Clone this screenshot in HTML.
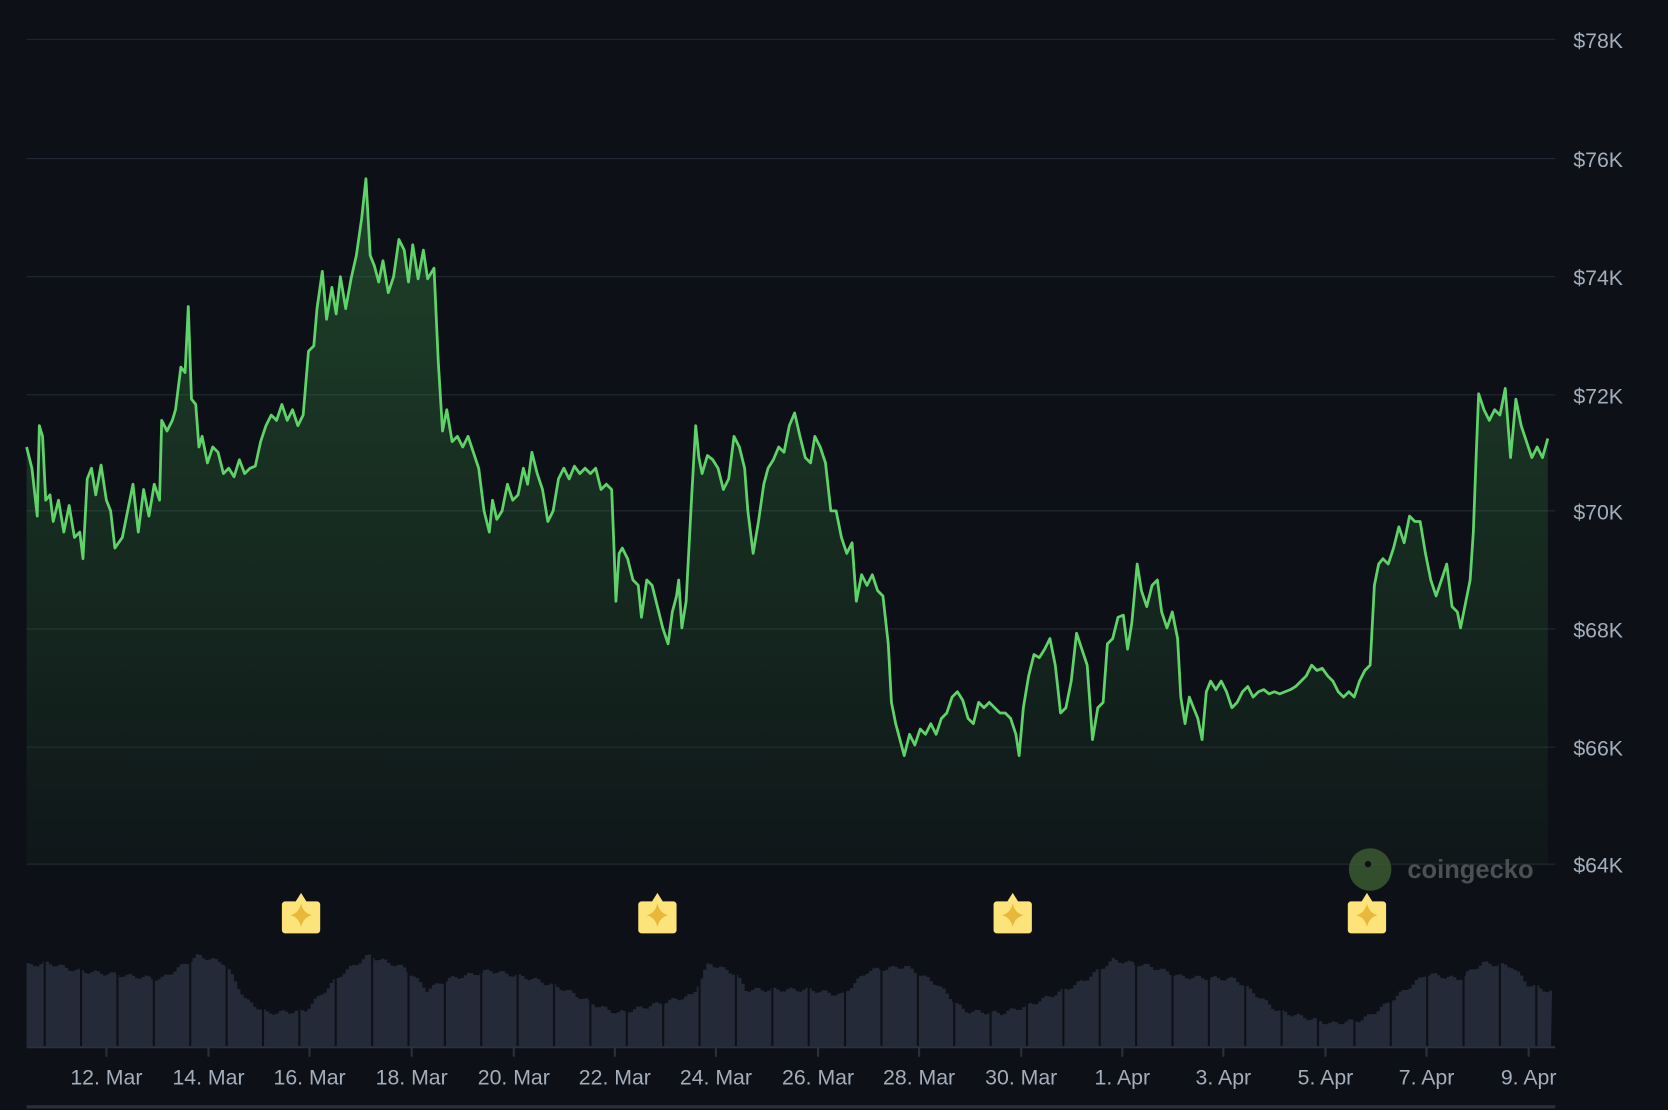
<!DOCTYPE html>
<html><head><meta charset="utf-8"><style>
html,body{margin:0;padding:0;background:#0d1117;}
svg{display:block}
text{font-family:"Liberation Sans",sans-serif;fill:#a3adbb;}
</style></head><body>
<svg id="s" width="1668" height="1110" viewBox="0 0 1568 1043" preserveAspectRatio="none">
<defs>
<linearGradient id="g" x1="0" y1="0" x2="0" y2="1">
<stop offset="0" stop-color="#3f9b4a" stop-opacity="0.35"/>
<stop offset="1" stop-color="#3f9b4a" stop-opacity="0.04"/>
</linearGradient>
</defs>
<rect width="1568" height="1043" fill="#0d1117"/>
<g id="grid" stroke="#222833" stroke-width="1"></g>
<g id="ylab" font-size="20"></g>
<path id="area" fill="url(#g)"/>
<polyline id="line" fill="none" stroke="#5fd36a" stroke-width="2.6" stroke-linejoin="round"/>
<g id="vol"></g>
<line x1="25" y1="984" x2="1462" y2="984" stroke="#2a303c" stroke-width="2"/>
<g id="xt" stroke="#2a303c" stroke-width="2"></g>
<g id="xlab" font-size="20" text-anchor="middle"></g>
<line x1="25" y1="1040" x2="1462" y2="1040" stroke="#2a303c" stroke-width="3"/>
<circle cx="1288" cy="817" r="20" fill="#3d5e32" opacity="0.8"/>
<circle cx="1286" cy="812" r="3" fill="#0d1117"/>
<text x="1323" y="825" font-size="24" font-weight="bold" style="fill:#4a5150">coingecko</text>
<g id="stars"></g>
</svg>
<script>
const S=document.getElementById('s'),ns='http://www.w3.org/2000/svg';
function el(p,t,a,txt){const e=document.createElementNS(ns,t);for(const k in a)e.setAttribute(k,a[k]);if(txt)e.textContent=txt;document.getElementById(p).appendChild(e);return e;}
const gy=[[37,'$78K'],[149,'$76K'],[260,'$74K'],[371,'$72K'],[480,'$70K'],[591,'$68K'],[702,'$66K'],[812,'$64K']];
gy.forEach(([y,t])=>{el('grid','line',{x1:25,x2:1462,y1:y,y2:y});el('ylab','text',{x:1479,y:y+8},t);});
const xl=[[100,'12. Mar'],[196,'14. Mar'],[291,'16. Mar'],[387,'18. Mar'],[483,'20. Mar'],[578,'22. Mar'],[673,'24. Mar'],[769,'26. Mar'],[864,'28. Mar'],[960,'30. Mar'],[1055,'1. Apr'],[1150,'3. Apr'],[1246,'5. Apr'],[1341,'7. Apr'],[1437,'9. Apr']];
xl.forEach(([x,t])=>{el('xt','line',{x1:x,x2:x,y1:984,y2:993});el('xlab','text',{x:x,y:1019},t);});
const P=[25,420,30,440,35,485,37,400,40,410,43,470,47,465,50,490,55,470,60,500,65,475,70,505,75,500,78,525,82,450,86,440,90,465,95,437,100,470,104,480,108,515,115,505,120,480,125,455,130,500,135,460,140,485,145,455,150,470,152,395,157,405,162,395,165,385,170,345,174,350,177,288,180,375,184,380,187,420,190,410,195,435,200,420,205,425,210,445,215,440,220,448,225,432,230,445,235,440,240,438,245,415,250,400,255,390,260,395,265,380,270,395,275,385,280,400,285,390,290,330,295,325,298,290,303,255,307,300,312,270,316,295,320,260,325,290,330,262,335,240,340,205,344,168,348,240,352,250,356,265,360,245,365,275,370,260,375,225,380,235,384,265,388,230,393,262,398,235,402,262,408,252,412,340,416,405,420,385,425,415,430,410,435,420,440,410,445,425,450,440,455,480,460,500,463,470,467,488,472,480,477,455,482,470,487,465,492,440,496,455,500,425,505,445,510,460,515,490,520,480,525,450,530,440,535,450,540,438,545,445,550,440,555,445,560,440,565,460,570,455,575,460,577,510,579,565,582,520,585,515,590,525,595,545,600,550,603,580,608,545,613,550,618,570,623,590,628,605,632,575,636,560,638,545,641,590,645,565,650,470,654,400,657,430,660,445,665,428,670,432,675,440,680,460,685,450,690,410,695,420,700,440,703,480,708,520,713,490,718,455,722,440,727,432,732,420,737,425,742,400,747,388,752,410,757,430,762,435,766,410,771,420,776,435,781,480,786,480,791,505,796,520,801,510,805,565,810,540,815,550,820,540,825,555,830,560,835,605,838,660,842,680,846,695,850,710,855,690,860,700,865,685,870,690,875,680,880,690,885,675,890,670,895,655,900,650,905,658,910,675,915,680,920,660,925,665,930,660,935,665,940,670,945,670,950,675,955,690,958,710,962,665,967,635,972,615,977,618,982,610,987,600,992,625,997,670,1002,665,1007,640,1012,595,1017,610,1022,625,1027,695,1032,665,1037,660,1041,605,1046,600,1051,580,1056,578,1060,610,1064,585,1069,530,1073,555,1078,570,1083,550,1088,545,1092,575,1097,590,1102,575,1107,600,1110,655,1114,680,1118,655,1122,665,1126,675,1130,695,1134,650,1138,640,1143,648,1148,640,1153,650,1158,665,1163,660,1168,650,1173,645,1178,655,1183,650,1188,648,1193,652,1198,650,1203,652,1208,650,1213,648,1218,645,1223,640,1228,635,1233,625,1238,630,1243,628,1248,635,1253,640,1258,650,1263,655,1268,650,1273,655,1278,640,1283,630,1288,625,1292,550,1296,530,1300,525,1305,530,1310,515,1315,495,1320,510,1325,485,1330,490,1335,490,1340,520,1345,545,1350,560,1355,545,1360,530,1365,570,1370,575,1373,590,1377,570,1382,545,1385,500,1388,420,1390,370,1395,385,1400,395,1405,385,1410,390,1415,365,1420,430,1425,375,1430,400,1435,415,1440,430,1445,420,1450,430,1455,412];
let pts=[];for(let i=0;i<P.length;i+=2)pts.push(P[i]+','+P[i+1]);
document.getElementById('line').setAttribute('points',pts.join(' '));
document.getElementById('area').setAttribute('d','M25,812 L'+pts.join(' L')+' L1455,812 Z');
const V=[25,907,45,905,70,912,100,915,150,920,185,898,210,905,230,940,250,952,285,950,300,935,320,915,345,898,380,910,400,930,420,920,460,912,500,920,530,930,560,945,580,952,610,945,650,935,665,905,690,915,700,930,760,930,790,935,815,912,850,908,880,925,905,950,940,952,965,945,1000,930,1020,920,1045,902,1080,908,1110,918,1160,920,1180,935,1200,950,1250,962,1280,958,1300,945,1320,930,1340,915,1370,920,1392,905,1420,908,1435,925,1457,932];
function vy(x){for(let i=0;i<V.length-2;i+=2){if(x<=V[i+2]){const t=(x-V[i])/(V[i+2]-V[i]);return V[i+1]+t*(V[i+3]-V[i+1]);}}return 932;}
let d='M25,983';for(let x=25;x<=1458;x+=3){const y=vy(x)+Math.sin(x*1.7)*2;d+=` L${x},${y.toFixed(1)} L${x+3},${y.toFixed(1)}`;}d+=' L1458,983 Z';
el('vol','path',{d:d,fill:'#252a38'});
for(let x=42;x<1458;x+=34.2)el('vol','line',{x1:x,x2:x,y1:895,y2:983,stroke:'#0d1117','stroke-width':2});
[283,618,952,1285].forEach(x=>{el('stars','path',{d:`M${x-15},${847} h10 l5,-8 l5,8 h10 a3,3 0 0 1 3,3 v24 a3,3 0 0 1 -3,3 h-30 a3,3 0 0 1 -3,-3 v-24 a3,3 0 0 1 3,-3 z`,fill:'#fce47a'});
el('stars','path',{d:`M${x},849 Q${x+2},858 ${x+10},860 Q${x+2},862 ${x},871 Q${x-2},862 ${x-10},860 Q${x-2},858 ${x},849 Z`,fill:'#e8b83a'});});
</script>
</body></html>
